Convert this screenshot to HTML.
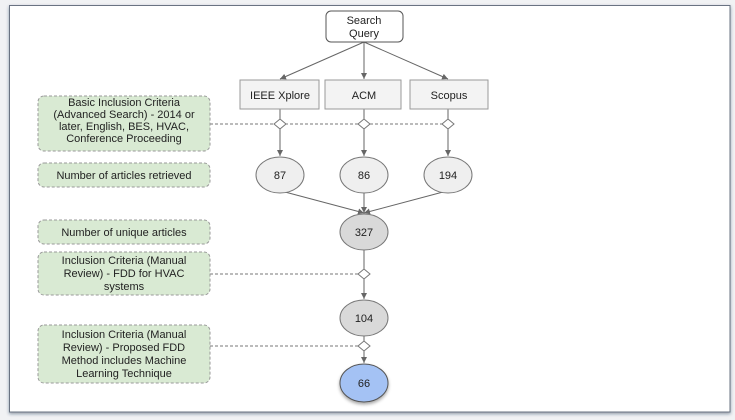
<!DOCTYPE html>
<html><head><style>
html,body{margin:0;padding:0;background:#f1f2f4;}
svg{display:block;font-family:"Liberation Sans",Arial,sans-serif;}
</style></head><body>
<svg width="735" height="420" viewBox="0 0 735 420" xmlns="http://www.w3.org/2000/svg">
<defs>
<marker id="a" markerWidth="8" markerHeight="8" refX="6" refY="3" orient="auto" markerUnits="userSpaceOnUse"><path d="M0,0 L6,3 L0,6 z" fill="#666"/></marker>
<filter id="sh" x="-30%" y="-30%" width="160%" height="170%"><feDropShadow dx="0" dy="2" stdDeviation="1.5" flood-color="#000" flood-opacity="0.35"/></filter>
<filter id="fs" x="-5%" y="-5%" width="110%" height="110%"><feDropShadow dx="0" dy="1.5" stdDeviation="1.5" flood-color="#1a2a4a" flood-opacity="0.45"/></filter>
</defs>
<rect x="0" y="0" width="735" height="420" fill="#f1f2f4"/>
<rect x="9.5" y="5.5" width="720.5" height="406.5" fill="#fff" stroke="#6a7382" filter="url(#fs)"/>
<g stroke="#666" stroke-width="1" fill="none">
<line x1="364" y1="42" x2="280" y2="79" marker-end="url(#a)"/>
<line x1="364" y1="42" x2="364" y2="79" marker-end="url(#a)"/>
<line x1="364" y1="42" x2="448" y2="79" marker-end="url(#a)"/>
<line x1="280" y1="109" x2="280" y2="156" marker-end="url(#a)"/>
<line x1="364" y1="109" x2="364" y2="156" marker-end="url(#a)"/>
<line x1="448" y1="109" x2="448" y2="156" marker-end="url(#a)"/>
<line x1="285" y1="192" x2="364" y2="213" marker-end="url(#a)"/>
<line x1="364" y1="193" x2="364" y2="213" marker-end="url(#a)"/>
<line x1="443" y1="192" x2="364" y2="213" marker-end="url(#a)"/>
<line x1="364" y1="250" x2="364" y2="299" marker-end="url(#a)"/>
<line x1="364" y1="336" x2="364" y2="363" marker-end="url(#a)"/>
</g>
<g stroke="#777" stroke-dasharray="3,2" fill="none">
<line x1="210" y1="124" x2="444" y2="124"/>
<line x1="210" y1="274" x2="360" y2="274"/>
<line x1="210" y1="346" x2="360" y2="346"/>
</g>
<g fill="#fff" stroke="#777">
<path d="M280,119 L286,124 L280,129 L274,124 z"/>
<path d="M364,119 L370,124 L364,129 L358,124 z"/>
<path d="M448,119 L454,124 L448,129 L442,124 z"/>
<path d="M364,269 L370,274 L364,279 L358,274 z"/>
<path d="M364,341 L370,346 L364,351 L358,346 z"/>
</g>
<rect x="326" y="11" width="77" height="31" rx="5" fill="#fff" stroke="#555"/>
<g fill="#f3f3f3" stroke="#999">
<rect x="240" y="80" width="79" height="29"/>
<rect x="325" y="80" width="76" height="29"/>
<rect x="410" y="80" width="78" height="29"/>
</g>
<g fill="#efefef" stroke="#777">
<ellipse cx="280" cy="175" rx="24" ry="18"/>
<ellipse cx="364" cy="175" rx="24" ry="18"/>
<ellipse cx="448" cy="175" rx="24" ry="18"/>
</g>
<g fill="#d9d9d9" stroke="#777">
<ellipse cx="364" cy="232" rx="24" ry="18"/>
<ellipse cx="364" cy="318" rx="24" ry="18"/>
</g>
<ellipse cx="364" cy="383" rx="24" ry="19" fill="#a4c2f4" stroke="#555" filter="url(#sh)"/>
<g fill="#d9ead3" stroke="#999" stroke-dasharray="3,2">
<rect x="38" y="96" width="172" height="55" rx="6"/>
<rect x="38" y="163" width="172" height="24" rx="6"/>
<rect x="38" y="220" width="172" height="24" rx="6"/>
<rect x="38" y="252" width="172" height="43" rx="6"/>
<rect x="38" y="325" width="172" height="58" rx="6"/>
</g>
<g font-size="11" fill="#222" text-anchor="middle">
<text x="364" y="24">Search</text>
<text x="364" y="37">Query</text>
<text x="280" y="99">IEEE Xplore</text>
<text x="364" y="99">ACM</text>
<text x="449" y="99">Scopus</text>
<text x="280" y="179">87</text>
<text x="364" y="179">86</text>
<text x="448" y="179">194</text>
<text x="364" y="236">327</text>
<text x="364" y="322">104</text>
<text x="364" y="387">66</text>
<text x="124" y="106">Basic Inclusion Criteria</text>
<text x="124" y="118">(Advanced Search) - 2014 or</text>
<text x="124" y="130">later, English, BES, HVAC,</text>
<text x="124" y="142">Conference Proceeding</text>
<text x="124" y="179">Number of articles retrieved</text>
<text x="124" y="236">Number of unique articles</text>
<text x="124" y="264">Inclusion Criteria (Manual</text>
<text x="124" y="277">Review) - FDD for HVAC</text>
<text x="124" y="290">systems</text>
<text x="124" y="338">Inclusion Criteria (Manual</text>
<text x="124" y="351">Review) - Proposed FDD</text>
<text x="124" y="364">Method includes Machine</text>
<text x="124" y="377">Learning Technique</text>
</g>
</svg>
</body></html>
